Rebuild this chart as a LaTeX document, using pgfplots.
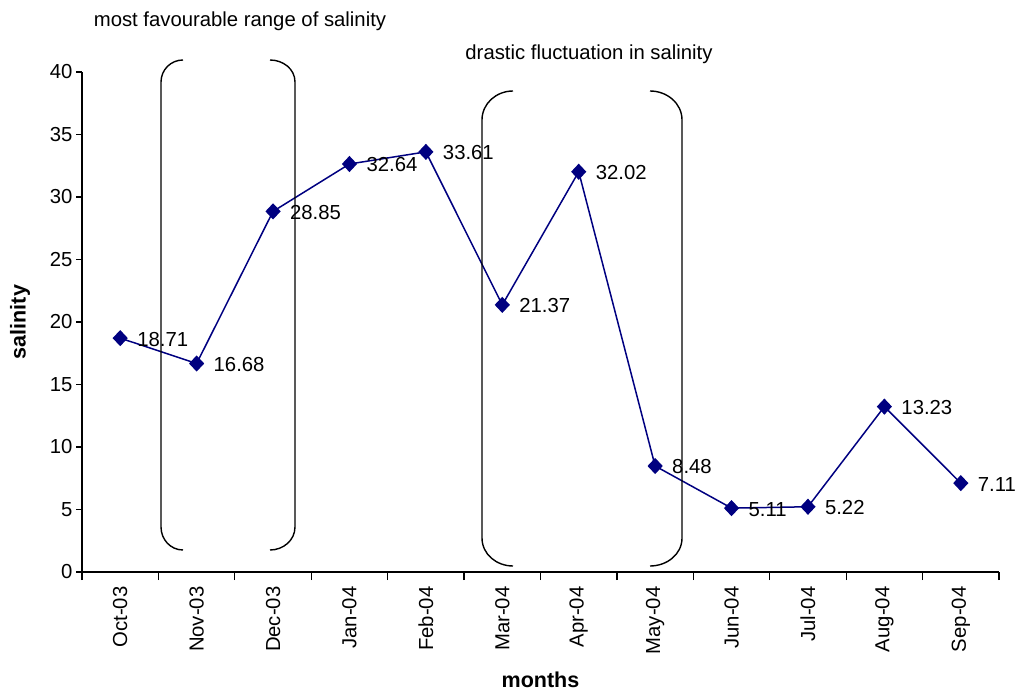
\documentclass[border=0pt]{standalone}
\usepackage{fontspec}
\setmainfont{Liberation Sans}
\usepackage{pgfplots}
\usepackage{pgfplotstable}
\pgfplotsset{compat=1.18}
\definecolor{navy}{RGB}{0,0,128}
\newcommand\f{\fontsize{20.3}{24}\selectfont}
\newcommand\fl{\fontsize{21.5}{25}\selectfont}
\pgfplotstableread{
x y label
0 18.71 18.71
1 16.68 16.68
2 28.85 28.85
3 32.64 32.64
4 33.61 33.61
5 21.37 21.37
6 32.02 32.02
7 8.48 8.48
8 5.11 5.11
9 5.22 5.22
10 13.23 13.23
11 7.11 7.11
}\salinity
\begin{document}
\begin{tikzpicture}[x=1pt,y=1pt]
\path[use as bounding box] (0,0) rectangle (1024,694);
\begin{axis}[
  at={(82pt,122pt)}, anchor=south west,
  scale only axis, width=917pt, height=500pt,
  xmin=-0.5, xmax=11.5, ymin=0, ymax=40,
  axis lines*=left,
  axis line style={-, line width=1.2pt},
  ytick={0,5,...,40},
  xtick={0,...,11},
  xticklabels={Oct-03,Nov-03,Dec-03,Jan-04,Feb-04,Mar-04,Apr-04,May-04,Jun-04,Jul-04,Aug-04,Sep-04},
  minor xtick={-0.5,0.5,...,11.5},
  major x tick style={draw=none},
  tick align=outside,
  minor tick length=8pt,
  major tick length=6pt,
  tick style={line width=1.2pt, black},
  tick label style={font=\f},
  /pgf/number format/assume math mode=true,
  xticklabel style={rotate=90, anchor=east},
  xticklabel shift=5pt,
  xlabel={months},
  ylabel={salinity},
  label style={font=\fl\bfseries},
  xlabel style={at={(axis description cs:0.5,-0.216)}, anchor=center},
  ylabel style={at={(axis description cs:-0.0676,0.5)}, anchor=center, rotate=0},
]
\addplot[color=navy, line width=1.5pt, mark=diamond*, mark size=7pt,
  mark options={fill=navy, solid, xscale=1.25},
  nodes near coords, point meta=explicit symbolic,
  every node near coord/.append style={anchor=west, xshift=13pt, yshift=-1pt, font=\f, color=black}]
  table[x=x,y=y,meta=label] {\salinity};
\end{axis}
\begin{scope}[line width=1.4pt]
\draw (183,634) to[out=180,in=90] (161,612) -- (161,167) to[out=-90,in=180] (183,144);
\draw (270,634) to[out=0,in=90] (295,612) -- (295,167) to[out=-90,in=0] (270,144);
\draw (513,603) to[out=180,in=90] (482,574) -- (482,156) to[out=-90,in=180] (513,128);
\draw (650,603) to[out=0,in=90] (682,574) -- (682,156) to[out=-90,in=0] (650,128);
\end{scope}
\node[font=\f] at (240,673) {most favourable range of salinity};
\node[font=\f] at (589,640) {drastic fluctuation in salinity};
\end{tikzpicture}
\end{document}
